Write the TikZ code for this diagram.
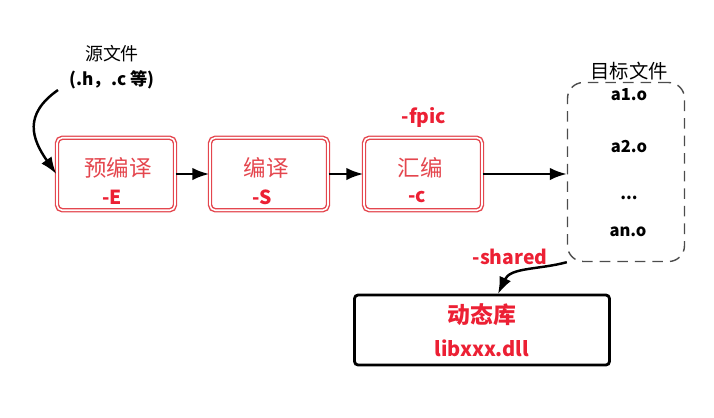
\documentclass[tikz,border=0pt]{standalone}
\usepackage{fontspec}
\usepackage{tikz}
\usetikzlibrary{arrows.meta}
\newfontfamily\cjk{Noto Sans CJK SC}
\definecolor{flagred}{RGB}{236,32,52}
\definecolor{boxred}{RGB}{228,70,78}
\tikzset{edge/.style = {->,> = {Latex[length=3.4mm,width=2.5mm]},line width=1.4pt}}

\begin{document}
\begin{tikzpicture}[x=0.02cm,y=-0.02cm]
	\useasboundingbox (0,0) rectangle (714,417);
	\begin{scope}[every node/.style={font=\cjk},
	              stage/.style = {draw=boxred,double=white,double distance=0.9pt,thick,rounded corners=3pt,minimum width=2.36cm,minimum height=1.45cm},
	              stagetxt/.style = {text=boxred,font=\cjk\fontsize{12.8}{14}\selectfont},
	              flag/.style = {text=flagred,font=\cjk\bfseries\fontsize{11}{13}\selectfont},
	              objfile/.style = {font=\cjk\bfseries\fontsize{9.4}{11}\selectfont}]
	    \node (src) at (112,54) {\fontsize{10.2}{12}\selectfont 源文件};
	    \node (ext) at (112,80) {\bfseries\fontsize{9.8}{12}\selectfont (.h，.c 等)};
	    \node [stage] (pre) at (116,174) {};
	    \node [stage] (comp) at (269,174) {};
	    \node [stage] (asm) at (423,174) {};
	    \node [stagetxt] (pretxt) at (118,168) {预编译};
	    \node [stagetxt] (comptxt) at (266,168) {编译};
	    \node [stagetxt] (asmtxt) at (420,168) {汇编};
	    \node [flag] (fe) at (112,197) {-E};
	    \node [flag] (fs) at (262,197) {-S};
	    \node [flag] (fc) at (417,197) {-c};
	    \node [flag] (fpic) at (424,117) {-fpic};
	    \node [draw=black!70,thick,dash pattern=on 6pt off 4pt,rounded corners=9pt,minimum width=2.34cm,minimum height=3.58cm] (objs) at (626,172) {};
	    \node (objlbl) at (629,71) {\fontsize{11}{13}\selectfont 目标文件};
	    \node [objfile] (o1) at (629,95) {a1.o};
	    \node [objfile] (o2) at (629,146) {a2.o};
	    \node [objfile] (od) at (629,198) {...};
	    \node [objfile] (on) at (628,232) {an.o};
	    \node [flag] (fshared) at (510,257) {-shared};
	    \node [draw=black,line width=1.6pt,rounded corners=2pt,minimum width=5.1cm,minimum height=1.4cm,align=center,text=flagred,font=\cjk\bfseries\fontsize{13}{19}\selectfont] (lib) at (482,330) {动态库\\{\fontsize{11.4}{13}\selectfont libxxx.dll}};
	\end{scope}
	\coordinate (srcend) at (58,90);
	\coordinate (libtop) at (498,294);
	\path [edge] (srcend) edge [out=215,in=125,looseness=1.3] (pre.west);
	\path [edge] (pre) edge (comp);
	\path [edge] (comp) edge (asm);
	\path [edge] (asm.east) edge (objs.west |- asm.east);
	\path [edge] (objs.south west) edge [out=195,in=65] (libtop);
\end{tikzpicture}
\end{document}
